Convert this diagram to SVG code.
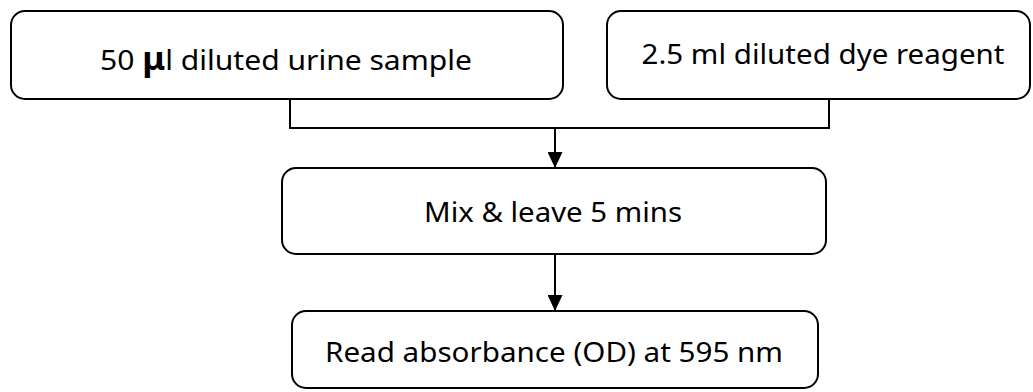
<svg xmlns="http://www.w3.org/2000/svg" width="1033" height="392" viewBox="0 0 1033 392">
<style>
.box{fill:#fff;stroke:#000;stroke-width:2}
.lbl{font-family:"Noto Sans","Open Sans",sans-serif;font-size:28px;fill:#000;text-anchor:middle}
.con{fill:none;stroke:#000;stroke-width:2}
</style>
<defs>
<marker id="arr" markerWidth="16" markerHeight="15" refX="16" refY="7.5" orient="auto" markerUnits="userSpaceOnUse" viewBox="0 0 16 15">
<path d="M0,0 L16,7.5 L0,15 Z" fill="#000"/>
</marker>
</defs>
<rect width="1033" height="392" fill="#fff"/>
<g id="connectors">
<polyline class="con" points="290,99 290,128 829,128 829,99"/>
<line class="con" x1="555" y1="128" x2="555" y2="168" marker-end="url(#arr)"/>
<line class="con" x1="555" y1="254" x2="555" y2="311" marker-end="url(#arr)"/>
</g>
<g id="node-urine">
<rect class="box" x="11" y="11" width="552" height="88" rx="14"/>
<text class="lbl" x="286" y="70" textLength="372" lengthAdjust="spacingAndGlyphs">50 <tspan font-weight="bold" font-size="32">μ</tspan>l diluted urine sample</text>
</g>
<g id="node-dye">
<rect class="box" x="607" y="11" width="423" height="88" rx="14"/>
<text class="lbl" x="823" y="64" textLength="363" lengthAdjust="spacingAndGlyphs">2.5 ml diluted dye reagent</text>
</g>
<g id="node-mix">
<rect class="box" x="282" y="168" width="544" height="86" rx="14"/>
<text class="lbl" x="553" y="222" textLength="258" lengthAdjust="spacingAndGlyphs">Mix &amp; leave 5 mins</text>
</g>
<g id="node-read">
<rect class="box" x="292" y="311" width="526" height="77" rx="14"/>
<text class="lbl" x="554" y="362" textLength="458" lengthAdjust="spacingAndGlyphs">Read absorbance (OD) at 595 nm</text>
</g>
</svg>
